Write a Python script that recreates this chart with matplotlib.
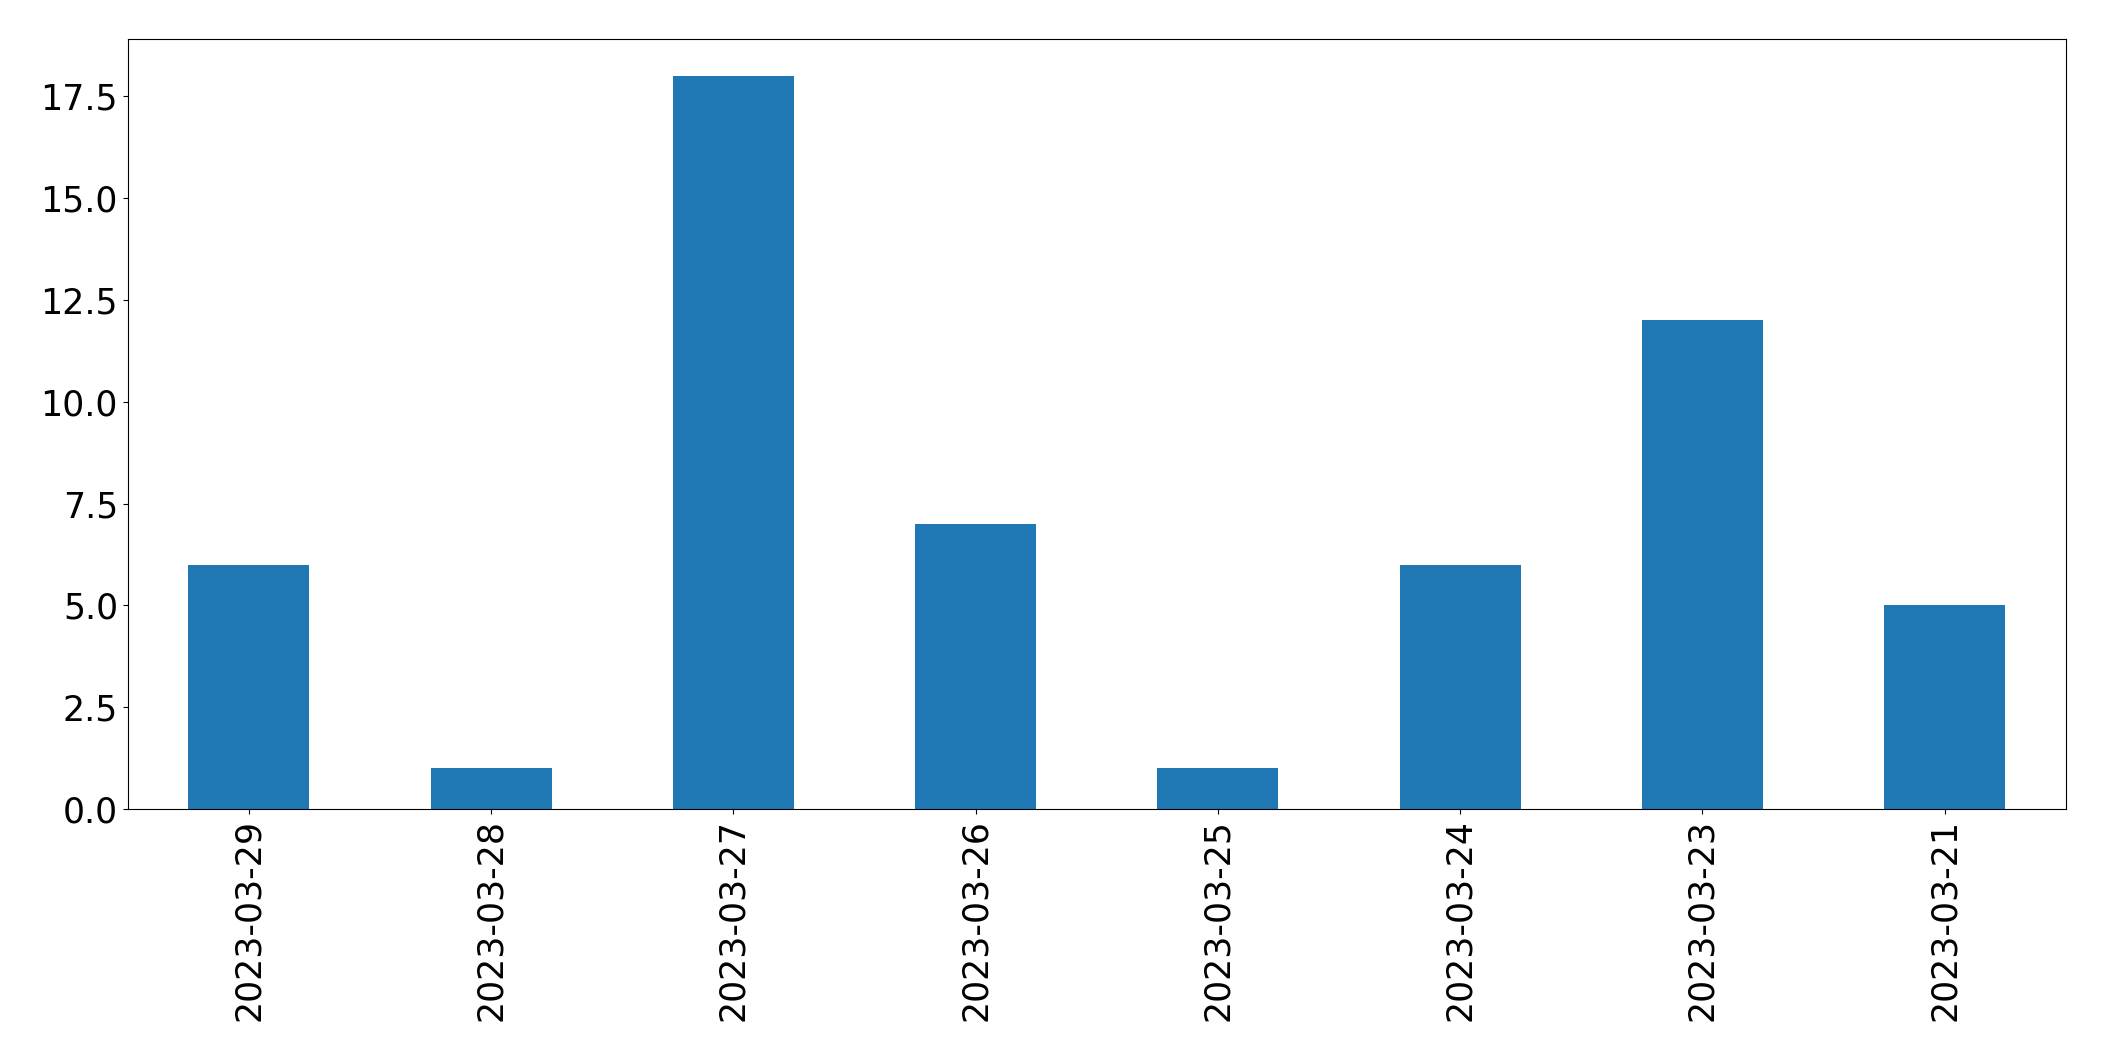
import matplotlib
matplotlib.use('Agg')
from matplotlib import pyplot as plt
import numpy as np

dates = ['2023-03-29', '2023-03-28', '2023-03-27', '2023-03-26',
         '2023-03-25', '2023-03-24', '2023-03-23', '2023-03-21']
counts = [6, 1, 18, 7, 1, 6, 12, 5]

fig = plt.figure(figsize=(21.04, 10.61), dpi=100)
ax = fig.add_axes([0.0607, 0.2375, 0.9211, 0.7255])

x = np.arange(len(dates))
ax.bar(x, counts, width=0.5, color='#1f77b4')
ax.set_xlim(-0.5, len(dates) - 0.5)
ax.set_xticks(x)
ax.set_xticklabels(dates, rotation=90)
ax.tick_params(axis='both', which='both', labelsize=25)

fig.savefig('out.png', dpi=100)
